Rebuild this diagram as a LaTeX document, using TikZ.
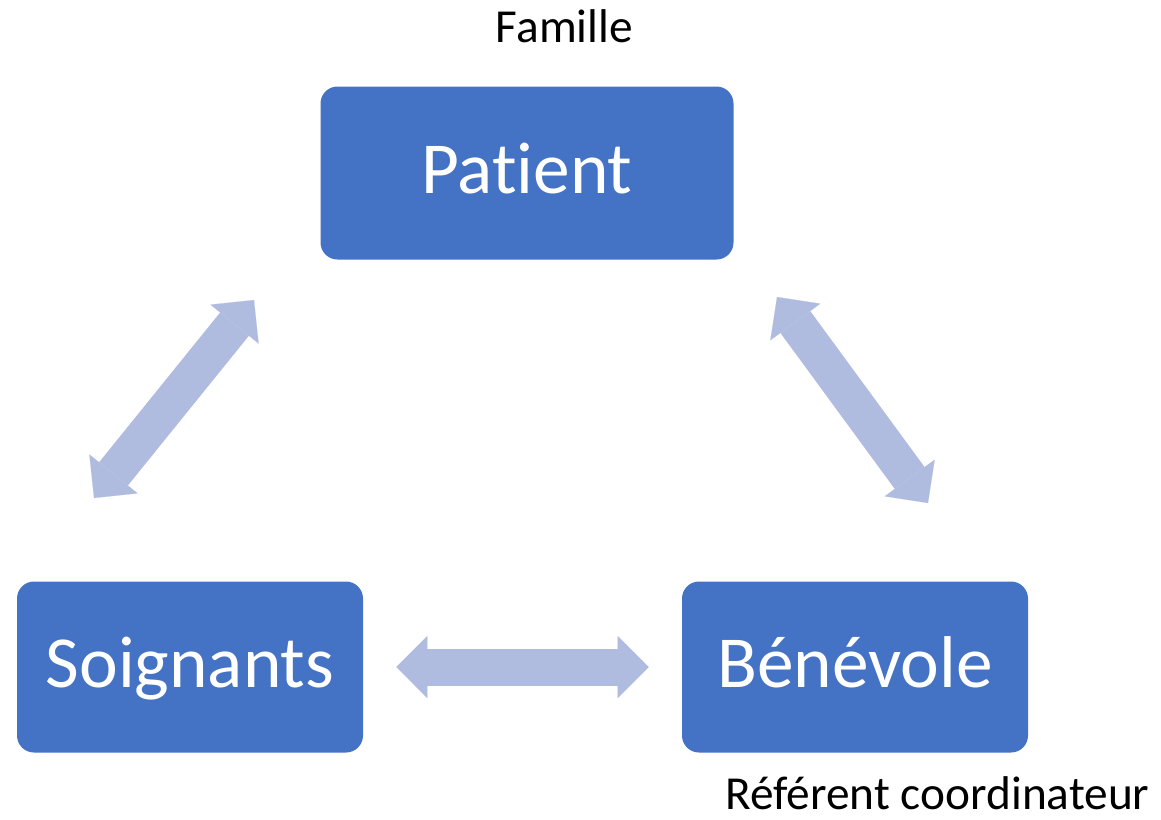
\documentclass[tikz,border=0pt]{standalone}
\usepackage{fontspec}
\setmainfont{Carlito}[Ligatures=NoCommon]
\definecolor{boxblue}{RGB}{68, 114, 196}
\definecolor{linkblue}{RGB}{176, 188, 223}
\usetikzlibrary{arrows.meta, positioning}

\begin{document}
\begin{tikzpicture}[x=0.75pt, y=-0.75pt,
  rolebox/.style={fill=boxblue, text=white, rounded corners=12.75pt, inner sep=0pt,
    minimum width=259.5pt, minimum height=128.25pt, text height=37pt, text depth=7pt,
    font=\fontsize{55}{62}\selectfont},
  tag/.style={anchor=base, inner sep=0pt, font=\fontsize{35.5}{40}\selectfont},
  >={Triangle[width=46.5pt, length=23.25pt, line width=0.1pt]},
  link/.style={draw=linkblue, line width=27.75pt, <->}]
  \useasboundingbox (0,0) rectangle (1161,819);

  % the three roles
  \node[rolebox, minimum width=309.75pt, minimum height=129.75pt] (patient) at (527, 173) {Patient};
  \node[rolebox] (soignants) at (190, 667) {Soignants};
  \node[rolebox] (benevole) at (855, 667) {Bénévole};

  % side labels
  \node[tag] (famille) at (564.5, 42) {Famille};
  \node[tag] (referent) at (937.5, 809) {Référent coordinateur};

  % free ends of the slanted links
  \coordinate (soignantsup) at (94, 498);
  \coordinate (patientleft) at (254, 300);
  \coordinate (patientright) at (777, 297);
  \coordinate (benevoleup) at (928, 503);

  \draw[link] (soignantsup) -- (patientleft);
  \draw[link] (patientright) -- (benevoleup);
  \draw[link, shorten <=24.75pt, shorten >=24.75pt] (soignants.east) -- (benevole.west);
\end{tikzpicture}
\end{document}
